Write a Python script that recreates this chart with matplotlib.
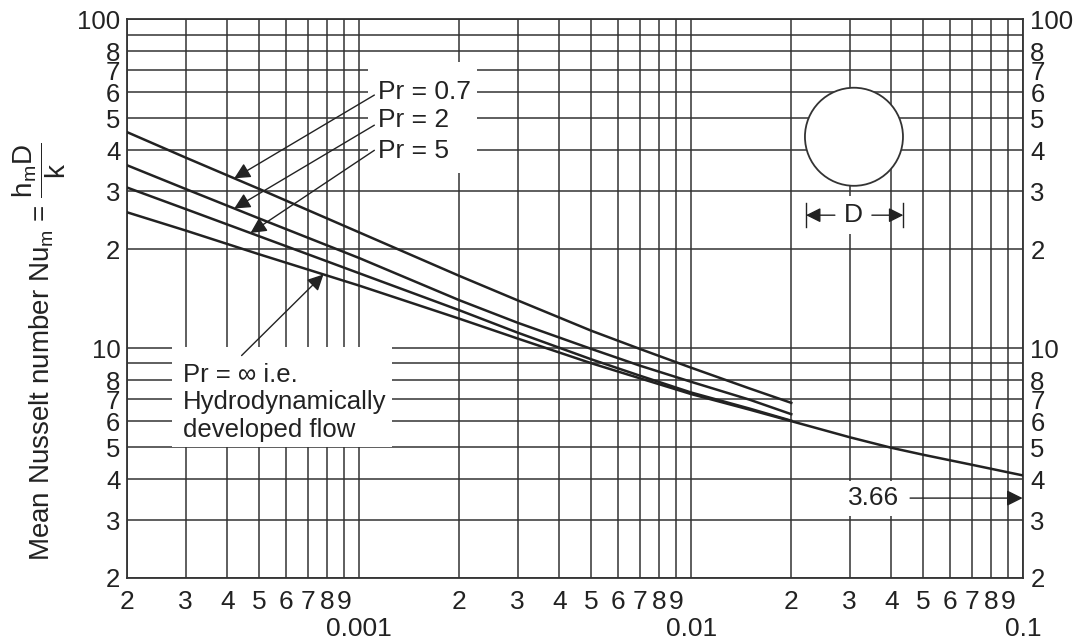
import numpy as np
import matplotlib
matplotlib.use('Agg')
import matplotlib.pyplot as plt
from matplotlib.patches import Rectangle, Ellipse

plt.rcParams['font.family'] = ['Liberation Sans', 'DejaVu Sans']
plt.rcParams['mathtext.fontset'] = 'custom'
plt.rcParams['mathtext.rm'] = 'Liberation Sans'
plt.rcParams['mathtext.it'] = 'Liberation Sans'
plt.rcParams['mathtext.bf'] = 'Liberation Sans:bold'

# inverse Graetz number x*
gz = [0.0002, 0.0003, 0.0005, 0.001, 0.002, 0.003, 0.005, 0.007, 0.01, 0.015, 0.02]
nu_pr07 = [45.4, 38.0, 30.5, 22.5, 16.6, 13.98, 11.3, 9.95, 8.72, 7.54, 6.82]
nu_pr2 = [36.0, 30.5, 24.8, 18.8, 14.0, 11.95, 9.95, 8.85, 7.9, 6.97, 6.3]
nu_pr5 = [30.8, 26.5, 21.9, 16.9, 13.05, 11.15, 9.25, 8.25, 7.33, 6.55, 6.02]
gz_inf = [0.0002, 0.0003, 0.0005, 0.001, 0.002, 0.003, 0.005, 0.007, 0.01, 0.015,
          0.02, 0.03, 0.04, 0.05, 0.07, 0.1]
nu_inf = [25.9, 22.8, 19.3, 15.5, 12.3, 10.7, 9.0, 8.1, 7.25, 6.5,
          6.0, 5.36, 4.98, 4.74, 4.42, 4.1]

pr_labels = ['Pr = 0.7', 'Pr = 2', 'Pr = 5']
inf_label = 'Pr = \u221e i.e.\nHydrodynamically\ndeveloped flow'
nu_limit_label = '3.66'

x_major = [0.001, 0.01, 0.1]
x_major_labels = ['0.001', '0.01', '0.1']
y_major = [10, 100]
y_major_labels = ['10', '100']

ink = '#222222'
fs = 19

fig = plt.figure(figsize=(10.73, 6.41), dpi=100)
ax = fig.add_axes([0.1186, 0.0983, 0.8351, 0.8713])
ax.set_xscale('log')
ax.set_yscale('log')
ax.set_xlim(0.0002, 0.1)
ax.set_ylim(2, 100)

# ticks / grid
x_minor = [m * 10.0 ** e for e in (-4, -3, -2) for m in range(2, 10)]
x_minor_labels = [str(m) for e in (-4, -3, -2) for m in range(2, 10)]
y_minor = [m * 10.0 ** e for e in (0, 1) for m in range(2, 10)]
y_minor_labels = [str(m) if m < 9 else '' for e in (0, 1) for m in range(2, 10)]
ax.set_xticks(x_major, x_major_labels)
ax.set_xticks(x_minor, x_minor_labels, minor=True)
ax.set_yticks(y_major, y_major_labels)
ax.set_yticks(y_minor, y_minor_labels, minor=True)
ax.tick_params(axis='both', which='both', length=0, labelsize=fs, colors=ink)
ax.tick_params(axis='y', which='both', labelsize=18.5)
ax.tick_params(axis='x', which='minor', pad=9)
ax.tick_params(axis='x', which='major', pad=28)
ax.tick_params(axis='y', which='both', left=True, right=True,
               labelleft=True, labelright=True, pad=5)
ax.grid(which='both', color='#333333', lw=1.1)
ax.set_axisbelow(True)
for s in ax.spines.values():
    s.set_color('#333333')
    s.set_linewidth(1.3)

ax.set_ylabel(r'Mean Nusselt number Nu$_\mathrm{m}$ = $\dfrac{\mathrm{h_mD}}{\mathrm{k}}$',
              fontsize=20, color=ink)
ax.yaxis.set_label_coords(-0.066, 0.404)

# curves
for nu in (nu_pr07, nu_pr2, nu_pr5):
    ax.plot(gz, nu, color=ink, lw=1.8, zorder=3)
ax.plot(gz_inf, nu_inf, color=ink, lw=1.8, zorder=3)


def on_curve(xs, ys, x):
    return 10 ** np.interp(np.log10(x), np.log10(xs), np.log10(ys))


arrow = dict(arrowstyle='-|>', color=ink, lw=1.0, mutation_scale=24, shrinkA=0, shrinkB=0)

# label box for Pr curves
ax.add_patch(Rectangle((0.2686, 0.725), 0.1217, 0.199, transform=ax.transAxes,
                       facecolor='white', edgecolor='none', zorder=2))
label_y = [60.1, 49.4, 39.8]
tail_y = [58.9, 47.7, 40.0]
tip_x = [0.00042, 0.00042, 0.00047]
for lab, ly, ty, tx, nu in zip(pr_labels, label_y, tail_y, tip_x, (nu_pr07, nu_pr2, nu_pr5)):
    ax.text(0.00114, ly, lab, fontsize=fs, color=ink, ha='left', va='center', zorder=4)
    ax.annotate('', xy=(tx, on_curve(gz, nu, tx)), xytext=(0.00111, ty),
                arrowprops=arrow, zorder=4)

# Pr = infinity label
ax.add_patch(Rectangle((0.0499, 0.234), 0.2455, 0.179, transform=ax.transAxes,
                       facecolor='white', edgecolor='none', zorder=2))
ax.text(0.000295, 9.0, inf_label, fontsize=18.5, color=ink, ha='left', va='top',
        linespacing=1.17, zorder=4)
ax.annotate('', xy=(0.00078, on_curve(gz_inf, nu_inf, 0.00078)), xytext=(0.000442, 9.5),
            arrowprops=arrow, zorder=4)

# 3.66 asymptote marker
ax.text(0.0355, 3.5, nu_limit_label, fontsize=fs, color=ink, ha='center', va='center',
        bbox=dict(facecolor='white', edgecolor='none', pad=4), zorder=4)
ax.annotate('', xy=(0.0995, 3.5), xytext=(0.0456, 3.5), arrowprops=arrow, zorder=4)

# tube cross-section sketch
ax.add_patch(Ellipse((0.811, 0.790), 0.1094, 0.1756, transform=ax.transAxes,
                     facecolor='white', edgecolor='#333333', lw=1.3, zorder=3))
ax.text(0.8101, 0.6496, 'D', fontsize=fs, color=ink, ha='center', va='center',
        transform=ax.transAxes, bbox=dict(facecolor='white', edgecolor='none', pad=5), zorder=4)
dim_arrow = dict(arrowstyle='-|>', color=ink, lw=1.0, mutation_scale=22, shrinkA=0, shrinkB=0)
ax.annotate('', xy=(0.7575, 0.6496), xytext=(0.7897, 0.6496), xycoords='axes fraction',
            arrowprops=dim_arrow, zorder=4)
ax.annotate('', xy=(0.8661, 0.6496), xytext=(0.8310, 0.6496), xycoords='axes fraction',
            arrowprops=dim_arrow, zorder=4)
for bx in (0.7575, 0.8661):
    ax.plot([bx, bx], [0.6281, 0.6711], transform=ax.transAxes, color=ink, lw=1.0, zorder=4)

fig.savefig('out.png', dpi=100)
